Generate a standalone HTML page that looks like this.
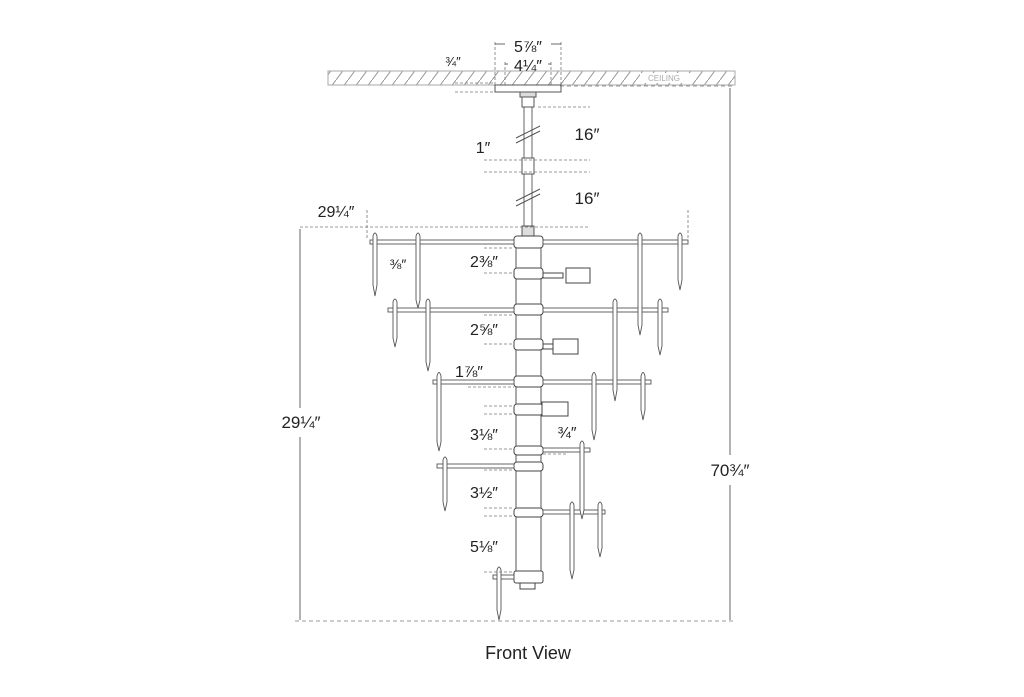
<!DOCTYPE html>
<html><head><meta charset="utf-8"><style>
html,body{margin:0;padding:0;background:#fff;}
svg{display:block}
text{font-family:"Liberation Sans",sans-serif;fill:#222}
</style></head><body>
<svg width="1024" height="697" viewBox="0 0 1024 697" xmlns="http://www.w3.org/2000/svg">
<defs>
<pattern id="h" width="12" height="16" patternUnits="userSpaceOnUse">
<line x1="0" y1="16" x2="12" y2="0" stroke="#999" stroke-width="1"/>
</pattern>
</defs>
<rect x="328" y="71" width="407" height="14" fill="url(#h)" stroke="#aaa" stroke-width="1"/>
<rect x="640" y="73" width="50" height="10" fill="#fff"/>
<text x="648" y="81" font-size="8" style="fill:#aaa">CEILING</text>
<g stroke="#777" stroke-width="0.8" fill="none" stroke-dasharray="3,2">
<line x1="495" y1="42" x2="495" y2="92"/><line x1="561" y1="42" x2="561" y2="92"/>
<line x1="505" y1="62" x2="505" y2="85"/><line x1="551" y1="62" x2="551" y2="85"/>
<line x1="455" y1="83" x2="495" y2="83"/><line x1="455" y1="92" x2="495" y2="92"/>
</g>
<g stroke="#444" stroke-width="0.8">
<line x1="495" y1="44" x2="505" y2="44"/><line x1="551" y1="44" x2="561" y2="44"/>
<line x1="505" y1="64" x2="508" y2="64"/><line x1="548" y1="64" x2="551" y2="64"/>
</g>
<text x="528" y="52" font-size="16" text-anchor="middle">5⅞″</text>
<text x="528" y="71" font-size="16" text-anchor="middle">4¼″</text>
<text x="453" y="66" font-size="13" text-anchor="middle">¾″</text>
<rect x="495" y="85" width="66" height="7" fill="#fff" stroke="#555"/>
<rect x="520" y="92" width="16" height="5" fill="#ddd" stroke="#555"/>
<rect x="524" y="97" width="8" height="140" fill="#fff" stroke="#555" stroke-width="0.9"/>
<rect x="522" y="97" width="12" height="10" fill="#fff" stroke="#555"/>
<rect x="522" y="158" width="12" height="16" fill="#fff" stroke="#555"/>
<rect x="522" y="226" width="12" height="11" fill="#ddd" stroke="#555"/>
<g stroke="#555" stroke-width="1"><line x1="516" y1="138" x2="540" y2="126"/><line x1="516" y1="143" x2="540" y2="131"/>
<line x1="516" y1="201" x2="540" y2="189"/><line x1="516" y1="206" x2="540" y2="194"/></g>
<g stroke="#777" stroke-width="0.8" stroke-dasharray="3,2">
<line x1="538" y1="107" x2="590" y2="107"/><line x1="484" y1="160" x2="590" y2="160"/>
<line x1="484" y1="172" x2="590" y2="172"/><line x1="300" y1="227" x2="590" y2="227"/>
<line x1="367" y1="210" x2="367" y2="240"/><line x1="688" y1="210" x2="688" y2="240"/>
</g>
<text x="587" y="140" font-size="17" text-anchor="middle">16″</text>
<text x="587" y="204" font-size="17" text-anchor="middle">16″</text>
<text x="483" y="153" font-size="16" text-anchor="middle">1″</text>
<text x="336" y="217" font-size="16" text-anchor="middle">29¼″</text>
<rect x="516" y="237" width="25" height="345" fill="#fff" stroke="#555"/>
<g fill="#fff" stroke="#444">
<rect x="514" y="236" width="29" height="12" rx="3"/>
<rect x="514" y="268" width="29" height="11" rx="3"/>
<rect x="514" y="304" width="29" height="11" rx="3"/>
<rect x="514" y="339" width="29" height="11" rx="3"/>
<rect x="514" y="376" width="29" height="11" rx="3"/>
<rect x="514" y="404" width="29" height="11" rx="3"/>
<rect x="514" y="446" width="29" height="9" rx="3"/>
<rect x="514" y="462" width="29" height="9" rx="3"/>
<rect x="514" y="508" width="29" height="9" rx="3"/>
<rect x="514" y="571" width="29" height="12" rx="2"/>
<rect x="520" y="583" width="15" height="6"/>
</g>
<g fill="#fff" stroke="#444">
<rect x="543" y="273" width="20" height="5"/><rect x="566" y="268" width="24" height="15"/>
<rect x="543" y="344" width="10" height="5"/><rect x="553" y="339" width="25" height="15"/>
<rect x="542" y="402" width="26" height="14"/>
</g>
<g fill="#fff" stroke="#555" stroke-width="0.9">
<rect x="370" y="240" width="144" height="4"/><rect x="543" y="240" width="145" height="4"/>
<rect x="388" y="308" width="126" height="4"/><rect x="543" y="308" width="125" height="4"/>
<rect x="433" y="380" width="81" height="4"/><rect x="543" y="380" width="108" height="4"/>
<rect x="437" y="464" width="77" height="4"/>
<rect x="543" y="448" width="47" height="4"/>
<rect x="543" y="510" width="62" height="4"/>
<rect x="493" y="575" width="21" height="4"/>
</g>
<g fill="#fff" stroke="#555" stroke-width="0.9">
<path d="M373 236Q375 230 377 236L377 285L375 296L373 285Z"/>
<path d="M416 236Q418 230 420 236L420 300L418 308L416 300Z"/>
<path d="M638 236Q640 230 642 236L642 325L640 335L638 325Z"/>
<path d="M678 236Q680 230 682 236L682 280L680 290L678 280Z"/>
<path d="M393 302Q395 296 397 302L397 338L395 347L393 338Z"/>
<path d="M426 302Q428 296 430 302L430 362L428 371L426 362Z"/>
<path d="M613 302Q615 296 617 302L617 390L615 401L613 390Z"/>
<path d="M658 302Q660 296 662 302L662 346L660 355L658 346Z"/>
<path d="M437 376Q439 369 441 376L441 442L439 451L437 442Z"/>
<path d="M592 376Q594 369 596 376L596 430L594 440L592 430Z"/>
<path d="M641 376Q643 369 645 376L645 410L643 420L641 410Z"/>
<path d="M443 460Q445 454 447 460L447 502L445 511L443 502Z"/>
<path d="M580 444Q582 438 584 444L584 510L582 519L580 510Z"/>
<path d="M570 505Q572 499 574 505L574 570L572 579L570 570Z"/>
<path d="M598 505Q600 499 602 505L602 548L600 557L598 548Z"/>
<path d="M497 570Q499 564 501 570L501 610L499 620L497 610Z"/>
</g>
<g stroke="#777" stroke-width="0.8" stroke-dasharray="3,2">
<line x1="484" y1="248" x2="514" y2="248"/><line x1="484" y1="273" x2="514" y2="273"/>
<line x1="484" y1="315" x2="514" y2="315"/><line x1="484" y1="344" x2="514" y2="344"/>
<line x1="468" y1="387" x2="514" y2="387"/><line x1="484" y1="406" x2="514" y2="406"/>
<line x1="484" y1="414" x2="514" y2="414"/><line x1="484" y1="449" x2="514" y2="449"/>
<line x1="543" y1="454" x2="567" y2="454"/>
<line x1="484" y1="470" x2="514" y2="470"/><line x1="484" y1="508" x2="514" y2="508"/>
<line x1="484" y1="516" x2="514" y2="516"/><line x1="484" y1="572" x2="514" y2="572"/>
</g>
<g font-size="16" text-anchor="middle">
<text x="484" y="267">2⅜″</text>
<text x="484" y="335">2⅝″</text>
<text x="469" y="377">1⅞″</text>
<text x="484" y="440">3⅛″</text>
<text x="567" y="438">¾″</text>
<text x="484" y="498">3½″</text>
<text x="484" y="552">5⅛″</text>
</g>
<text x="398" y="269" font-size="14" text-anchor="middle">⅜″</text>
<g stroke="#777" stroke-width="0.8" stroke-dasharray="4,3">
<line x1="295" y1="621" x2="735" y2="621"/>
<line x1="560" y1="86" x2="735" y2="86"/>
</g>
<g stroke="#666" stroke-width="1">
<line x1="300" y1="229" x2="300" y2="408"/><line x1="300" y1="437" x2="300" y2="620"/>
<line x1="730" y1="88" x2="730" y2="455"/><line x1="730" y1="485" x2="730" y2="620"/>
</g>
<text x="301" y="428" font-size="17" text-anchor="middle">29¼″</text>
<text x="730" y="476" font-size="17" text-anchor="middle">70¾″</text>
<text x="528" y="659" font-size="18" text-anchor="middle">Front View</text>
</svg>
</body></html>
